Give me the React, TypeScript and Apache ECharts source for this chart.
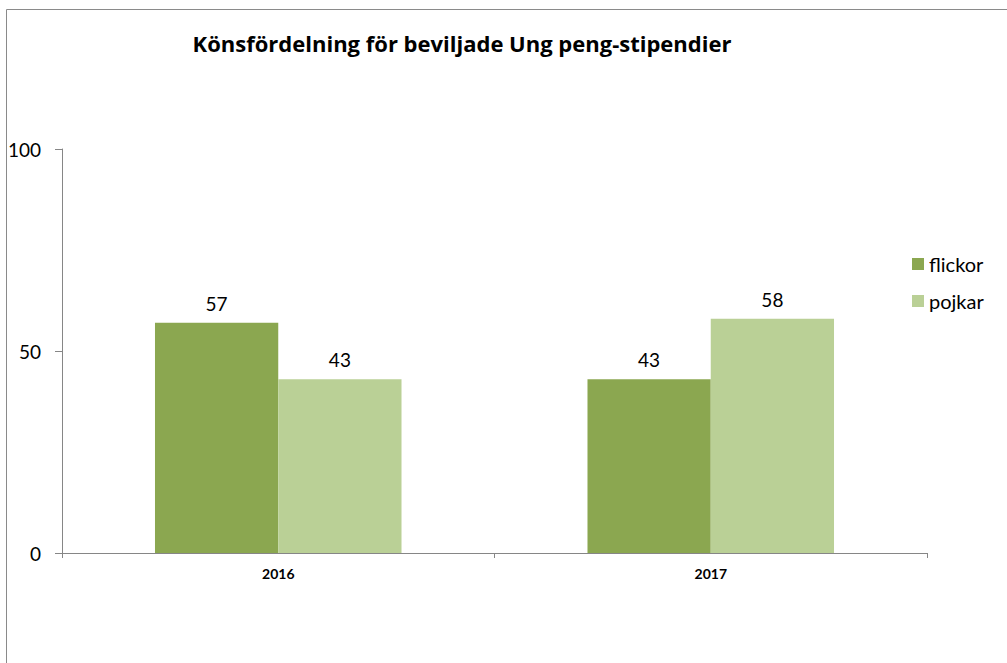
import React, { useEffect, useRef } from "react";
import * as echarts from "echarts";

const categories = ["2016", "2017"];
const flickor = [57, 43];
const pojkar = [43, 58];
const seriesNames = ["flickor", "pojkar"];
const titleText = "Könsfördelning för beviljade Ung peng-stipendier";

const FONT = "Lato, 'Open Sans', sans-serif";

export default function App() {
  const ref = useRef<HTMLDivElement>(null);
  useEffect(() => {
    if (!ref.current) return;
    const chart = echarts.init(ref.current, undefined, { renderer: "svg" });
    chart.setOption({
      animation: false,
      backgroundColor: "#ffffff",
      textStyle: { fontFamily: FONT },
      title: {
        text: titleText,
        left: 457,
        top: 27,
        textAlign: "center",
        textStyle: { fontFamily: "'Open Sans', sans-serif", fontSize: 22, fontWeight: "bold", color: "#000" },
      },
      legend: {
        orient: "vertical",
        left: 907,
        top: 249,
        itemWidth: 12,
        itemHeight: 12,
        itemGap: 17,
        icon: "rect",
        textStyle: { fontFamily: FONT, fontSize: 20, lineHeight: 20, color: "#000" },
        data: seriesNames,
      },
      graphic: [
        {
          type: "rect",
          shape: { x: 6.5, y: 9.5, width: 1010, height: 700 },
          style: { fill: "none", stroke: "#8a8a8a", lineWidth: 1 },
          silent: true,
        },
      ],
      grid: { left: 62, top: 149, right: 80, bottom: 110, containLabel: false },
      xAxis: {
        type: "category",
        data: categories,
        axisLine: { show: true, lineStyle: { color: "#868686", width: 1 } },
        axisTick: { show: true, length: 5, lineStyle: { color: "#868686" } },
        axisLabel: { fontFamily: FONT, fontSize: 14, fontWeight: "bold", color: "#000", margin: 13 },
      },
      yAxis: {
        type: "value",
        min: 0,
        max: 100,
        interval: 50,
        axisLine: { show: true, lineStyle: { color: "#868686", width: 1 } },
        axisTick: { show: true, length: 7, lineStyle: { color: "#868686" } },
        splitLine: { show: false },
        axisLabel: { fontFamily: FONT, fontSize: 19, color: "#000", margin: 21 },
      },
      series: [
        {
          name: seriesNames[0],
          type: "bar",
          data: flickor,
          barGap: "0%",
          barCategoryGap: "43%",
          itemStyle: { color: "#8ba750" },
          label: { show: true, position: "top", distance: 10, fontFamily: FONT, fontSize: 19, color: "#000" },
        },
        {
          name: seriesNames[1],
          type: "bar",
          data: pojkar,
          barGap: "0%",
          barCategoryGap: "43%",
          itemStyle: { color: "#bad096" },
          label: { show: true, position: "top", distance: 10, fontFamily: FONT, fontSize: 19, color: "#000" },
        },
      ],
    });
    return () => chart.dispose();
  }, []);
  return (
    <div
      ref={ref}
      style={{ position: "fixed", left: 0, top: 0, width: 1007, height: 663 }}
    />
  );
}
